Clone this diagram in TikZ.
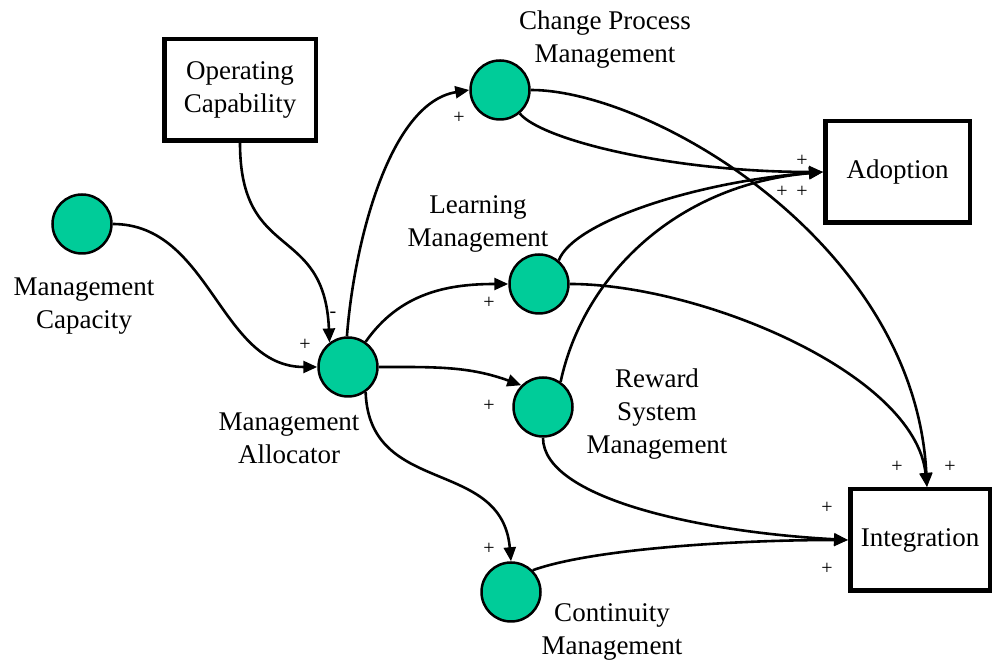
\documentclass[tikz,border=0pt]{standalone}
\usepackage{fontspec}
\setmainfont{Liberation Serif}
\usetikzlibrary{arrows.meta}
\definecolor{nodegreen}{RGB}{0,204,153}
\begin{document}
\begin{tikzpicture}[x=1pt,y=1pt,
  stock/.style={circle,draw=black,fill=nodegreen,line width=2.5pt,minimum size=59pt,inner sep=0pt},
  level/.style={rectangle,draw=black,line width=4.5pt,inner sep=0pt,font=\fontsize{27}{33}\selectfont,align=center,minimum height=101.5pt},
  lbl/.style={font=\fontsize{27}{33}\selectfont,align=center,inner sep=0pt},
  sgn/.style={font=\fontsize{20}{20}\selectfont,inner sep=0pt},
  link/.style={line width=2.6pt,-{Triangle[length=14pt,width=12pt]}}
]
\useasboundingbox (0,0) rectangle (994,663);
% nodes
\node[stock] (mc) at (82,439) {};
\node[level,minimum width=151.5pt] (oc) at (240,573) {Operating\\Capability};
\node[stock] (cp) at (500,573) {};
\node[level,minimum width=144.5pt] (ad) at (897.5,491) {Adoption};
\node[stock] (lm) at (539,379) {};
\node[stock] (ma) at (348,296) {};
\node[stock] (rs) at (543,256) {};
\node[stock] (cm) at (511,71) {};
\node[level,minimum width=139.5pt] (in) at (920,123) {Integration};
% labels
\node[lbl] (mcl) at (84,357) {Management\\Capacity};
\node[lbl] (cpl) at (605,623) {Change Process\\Management};
\node[lbl] (lml) at (478,439) {Learning\\Management};
\node[lbl] (mal) at (289,225) {Management\\Allocator};
\node[lbl] (rsl) at (657,249) {Reward\\System\\Management};
\node[lbl] (cml) at (612,31) {Continuity\\Management};
% helper coordinate
\coordinate (intop) at ([xshift=7pt]in.north);
% links
\draw[link] (mc.east) to[out=0,in=180] (ma.west);
\draw[link] (oc.south) .. controls +(0,-120) and +(-5,120) .. (ma.127);
\draw[link] (ma.92) .. controls +(7,93) and +(-80,-13) .. (cp.west);
\draw[link] (ma.55) to[out=55,in=180] (lm.west);
\draw[link] (ma.east) to[out=0,in=160] (rs.135);
\draw[link] (ma.-55) to[out=-88,in=95,looseness=1.2] (cm.north);
\draw[link] (cp.-50) .. controls +(-50:35) and +(-150,0) .. (ad.west);
\draw[link] (cp.east) .. controls +(120,0) and +(-12,244) .. (intop);
\draw[link] (lm.50) .. controls +(70:40) and +(-130,-10) .. (ad.west);
\draw[link] (rs.55) .. controls +(78:105) and +(-150,-13) .. (ad.west);
\draw[link] (lm.east) .. controls +(130,0) and +(-12,114) .. (intop);
\draw[link] (rs.south) .. controls +(0,-60) and +(-150,8) .. (in.west);
\draw[link] (cm.45) .. controls +(20:60) and +(-120,0) .. (in.west);
% polarity signs
\node[sgn] (s1) at (305,318) {+};
\node[sgn] (s2) at (333,348) {-};
\node[sgn] (s3) at (459,545) {+};
\node[sgn] (s4) at (489,360) {+};
\node[sgn] (s5) at (489,257) {+};
\node[sgn] (s6) at (489,114) {+};
\node[sgn] (s7) at (802,502) {+};
\node[sgn] (s8) at (782,471) {+};
\node[sgn] (s9) at (802,471) {+};
\node[sgn] (s10) at (897,196) {+};
\node[sgn] (s11) at (950,196) {+};
\node[sgn] (s12) at (827,155) {+};
\node[sgn] (s13) at (827,94) {+};
\end{tikzpicture}
\end{document}
